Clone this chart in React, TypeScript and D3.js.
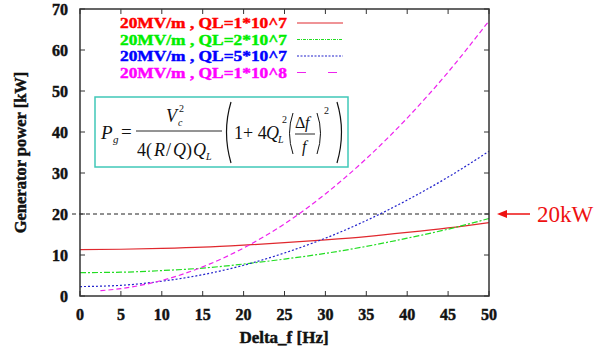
import { useMemo } from "react";
import * as d3 from "d3";

// Delta_f [Hz] sample points
const freq = [0, 5, 10, 15, 20, 25, 30, 35, 40, 45, 50];
const freqMagenta = [2.5, 5, 10, 15, 20, 25, 30, 35, 40, 45, 50];

// generator power [kW]
const ql1e7 = [11.3, 11.4, 11.6, 11.9, 12.4, 13.0, 13.7, 14.5, 15.5, 16.6, 17.9];
const ql2e7 = [5.7, 5.8, 6.2, 6.8, 7.8, 9.0, 10.4, 12.1, 14.1, 16.3, 18.9];
const ql5e7 = [2.3, 2.6, 3.6, 5.2, 7.5, 10.5, 14.1, 18.4, 23.4, 29.0, 35.3];
const ql1e8 = [1.3, 1.8, 3.8, 7.1, 11.7, 17.6, 24.9, 33.5, 43.4, 54.6, 67.1];

const seriesLabels = [
  "20MV/m , QL=1*10^7",
  "20MV/m , QL=2*10^7",
  "20MV/m , QL=5*10^7",
  "20MV/m , QL=1*10^8",
];

const xTicks = [0, 5, 10, 15, 20, 25, 30, 35, 40, 45, 50];
const yTicks = [0, 10, 20, 30, 40, 50, 60, 70];
const limitKW = 20;

const W = 603;
const H = 356;
const margin = { top: 9, right: 114, bottom: 60, left: 80 };
const serif = "Liberation Serif, Times New Roman, serif";

// heavy gnuplot-style labels: bold Times plus a thin outline
const heavy = { stroke: "currentColor", strokeWidth: 0.45, fontWeight: "bold" as const };

export default function App() {
  const x = useMemo(
    () => d3.scaleLinear().domain([0, 50]).range([margin.left, W - margin.right]),
    []
  );
  const y = useMemo(
    () => d3.scaleLinear().domain([0, 70]).range([H - margin.bottom, margin.top]),
    []
  );

  const line = d3
    .line<[number, number]>()
    .x((d) => x(d[0]))
    .y((d) => y(d[1]))
    .curve(d3.curveMonotoneX);

  const series = [
    { xs: freq, ys: ql1e7, stroke: "#e0282e", text: "#ff0000", dash: "none" },
    { xs: freq, ys: ql2e7, stroke: "#22dd22", text: "#00ee00", dash: "6,2,2,2" },
    { xs: freq, ys: ql5e7, stroke: "#2222cc", text: "#0000ff", dash: "2,2" },
    { xs: freqMagenta, ys: ql1e8, stroke: "#ee22ee", text: "#ff00ff", dash: "5,3" },
  ];
  const legendDash = ["none", "3,1,1,1", "2,1.5", "9,22"];

  const x0 = x(0);
  const x1 = x(50);
  const y0 = y(0);
  const y1 = y(70);

  return (
    <svg
      width={W}
      height={H}
      style={{ position: "absolute", left: 0, top: 0, background: "#fff" }}
      fontFamily={serif}
    >
      {/* limit line */}
      <line
        x1={x0 - 8}
        x2={x1}
        y1={y(limitKW)}
        y2={y(limitKW)}
        stroke="#222"
        strokeWidth={1}
        strokeDasharray="4,3"
      />

      {/* curves */}
      {series.map((s, i) => (
        <path
          key={i}
          d={line(s.xs.map((v, j) => [v, s.ys[j]] as [number, number])) || ""}
          fill="none"
          stroke={s.stroke}
          strokeWidth={1.2}
          strokeDasharray={s.dash}
        />
      ))}

      {/* frame */}
      <rect x={x0} y={y1} width={x1 - x0} height={y0 - y1} fill="none" stroke="#333" strokeWidth={1.5} />

      {/* x ticks */}
      {xTicks.map((t) => (
        <g key={"x" + t} style={{ color: "#111" }}>
          <line x1={x(t)} x2={x(t)} y1={y0} y2={y0 - 5} stroke="#333" />
          <line x1={x(t)} x2={x(t)} y1={y1} y2={y1 + 5} stroke="#333" />
          <text x={x(t)} y={y0 + 24} textAnchor="middle" fontSize={16} fill="#111" {...heavy}>
            {t}
          </text>
        </g>
      ))}

      {/* y ticks */}
      {yTicks.map((t) => (
        <g key={"y" + t} style={{ color: "#111" }}>
          <line x1={x0} x2={x0 + 5} y1={y(t)} y2={y(t)} stroke="#333" />
          <line x1={x1} x2={x1 - 5} y1={y(t)} y2={y(t)} stroke="#333" />
          <text x={x0 - 12} y={y(t) + 6} textAnchor="end" fontSize={16} fill="#111" {...heavy}>
            {t}
          </text>
        </g>
      ))}

      {/* axis titles */}
      <g style={{ color: "#111" }}>
        <text x={284} y={343} textAnchor="middle" fontSize={17} fill="#111" {...heavy}>
          Delta_f [Hz]
        </text>
        <text
          transform={`translate(26,${(y0 + y1) / 2}) rotate(-90)`}
          textAnchor="middle"
          fontSize={16.5}
          fill="#111"
          {...heavy}
        >
          Generator power [kW]
        </text>
      </g>

      {/* legend */}
      {seriesLabels.map((lab, i) => {
        const yy = 23 + i * 16.5;
        return (
          <g key={lab} style={{ color: series[i].text }}>
            <text
              x={120}
              y={yy + 5}
              fontSize={15}
              textLength={167}
              lengthAdjust="spacingAndGlyphs"
              fill={series[i].text}
              {...heavy}
            >
              {lab}
            </text>
            <line
              x1={297}
              x2={343}
              y1={yy}
              y2={yy}
              stroke={series[i].stroke}
              strokeWidth={1.2}
              strokeDasharray={legendDash[i]}
            />
          </g>
        );
      })}

      {/* formula box */}
      <rect x={95} y={97} width={253} height={70} fill="#fff" stroke="#40c8b8" strokeWidth={1.5} />
      <g fill="#111">
        <text x={101} y={139} fontSize={19} fontStyle="italic">P</text>
        <text x={113} y={143} fontSize={11} fontStyle="italic">g</text>
        <text x={121} y={138} fontSize={19}>=</text>
        <text x={166} y={122} fontSize={18} fontStyle="italic">V</text>
        <text x={178} y={126} fontSize={10} fontStyle="italic">c</text>
        <text x={179} y={112} fontSize={10}>2</text>
        <line x1={136} x2={222} y1={131} y2={131} stroke="#111" strokeWidth={0.9} />
        <text x={137} y={156} fontSize={18}>4(</text>
        <text x={154} y={156} fontSize={18} fontStyle="italic">R</text>
        <text x={166} y={156} fontSize={18}>/</text>
        <text x={173} y={156} fontSize={18} fontStyle="italic">Q</text>
        <text x={186} y={156} fontSize={18}>)</text>
        <text x={193} y={156} fontSize={18} fontStyle="italic">Q</text>
        <text x={206} y={160} fontSize={10} fontStyle="italic">L</text>
        {/* big parens */}
        <path d="M231,102 Q222,132 231,163" fill="none" stroke="#111" strokeWidth={1.2} />
        <path d="M337,102 Q346,132 337,163" fill="none" stroke="#111" strokeWidth={1.2} />
        <text x={234} y={139} fontSize={18}>1+ 4</text>
        <text x={266} y={139} fontSize={18} fontStyle="italic">Q</text>
        <text x={278} y={143} fontSize={10} fontStyle="italic">L</text>
        <text x={282} y={123} fontSize={10}>2</text>
        {/* small parens */}
        <path d="M293,113 Q286,133 293,154" fill="none" stroke="#111" strokeWidth={1} />
        <path d="M317,113 Q324,133 317,154" fill="none" stroke="#111" strokeWidth={1} />
        <text x={295} y={128} fontSize={16}>Δ</text>
        <text x={305} y={128} fontSize={16} fontStyle="italic">f</text>
        <line x1={295} x2={315} y1={134} y2={134} stroke="#111" strokeWidth={0.9} />
        <text x={302} y={152} fontSize={16} fontStyle="italic">f</text>
        <text x={324} y={114} fontSize={10}>2</text>
      </g>

      {/* 20kW marker */}
      <line x1={504} x2={530} y1={y(limitKW)} y2={y(limitKW)} stroke="#ee1111" strokeWidth={1.5} />
      <path
        d={`M${497},${y(limitKW)} L${507},${y(limitKW) - 4} L${507},${y(limitKW) + 4} Z`}
        fill="#ee1111"
      />
      <text x={537} y={y(limitKW) + 8} fontSize={23} fill="#ee1111">
        20kW
      </text>
    </svg>
  );
}
